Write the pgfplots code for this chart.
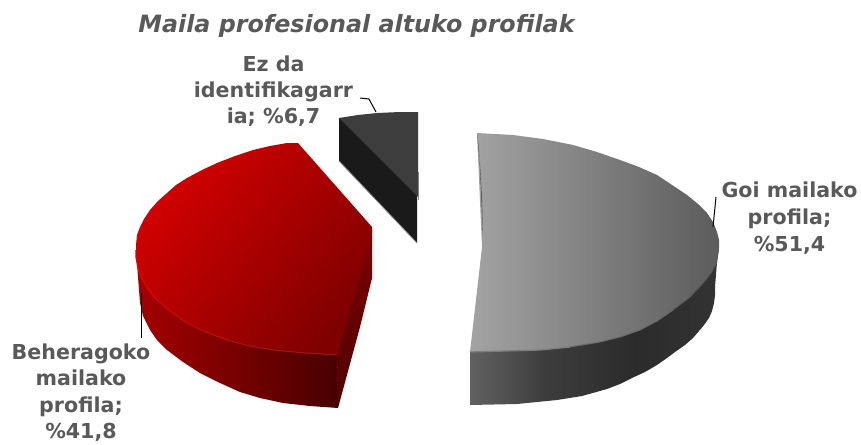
\documentclass[border=0pt]{standalone}
\usepackage{fontspec}
\setmainfont{DejaVu Sans}
\usepackage{pgfplots}
\pgfplotsset{compat=1.18}
\definecolor{lab}{HTML}{595959}
\pgfdeclarehorizontalshading{graytop}{100bp}{color(0bp)=(black!36!white);color(25bp)=(black!36!white);color(50bp)=(black!50!white);color(75bp)=(black!64!white);color(100bp)=(black!64!white)}
\pgfdeclarehorizontalshading{grayside}{100bp}{color(0bp)=(black!62!white);color(25bp)=(black!62!white);color(40bp)=(black!76!white);color(58bp)=(black!83!white);color(75bp)=(black!80!white);color(100bp)=(black!80!white)}
\begin{document}
\begin{tikzpicture}
\begin{axis}[
  scale only axis, width=861pt, height=441pt,
  xmin=0, xmax=861, ymin=0, ymax=441, y dir=reverse,
  hide axis, clip=false, no markers,
  every axis plot/.append style={forget plot, draw=none, line join=round},
]
\path (axis cs:0,0) rectangle (axis cs:861,441);
% dark slice
\addplot[fill={rgb,255:red,26;green,26;blue,26}] coordinates {(339,118)(380,130)(417,170)(417,243)(339,161)} --cycle;
\addplot[draw={rgb,255:red,140;green,140;blue,140}, line width=0.8pt] coordinates {(339,161)(417,243)};
\addplot[draw={rgb,255:red,140;green,140;blue,140}, line width=0.8pt] coordinates {(418,172)(418,200)};
\addplot[fill={rgb,255:red,62;green,62;blue,62}] coordinates {(339,118)(358,115)(377,113)(400,112)(418,112)(418,197)} --cycle;
% red slice
\addplot[shading=axis, left color={rgb,255:red,165;green,0;blue,0}, right color={rgb,255:red,72;green,0;blue,0}] coordinates {(136,250)(138,277)(140,303)(143,316)(150,330)(157,340)(167,350)(183,362)(200,373)(220,383)(240,392)(260,398)(283,403)(310,406)(338,408)(337,350)(200,280)} --cycle;
\addplot[top color={rgb,255:red,125;green,0;blue,0}, bottom color={rgb,255:red,80;green,0;blue,0}] coordinates {(337,354)(372,230)(372,278)(360,327)(338,408)} --cycle;
\addplot[shading=axis, top color={rgb,255:red,212;green,0;blue,0}, bottom color={rgb,255:red,128;green,0;blue,0}, shading angle=50] coordinates {(298,143)(287,143)(270,146)(253,150)(235,156)(217,163)(202,170)(187,178)(176,185)(167,193)(158,201)(150,210)(144,219)(140,227)(137,235)(136,245)(136,257)(138,268)(141,277)(148,289)(157,300)(171,312)(187,323)(206,332)(227,340)(250,346)(273,350)(305,353)(337,355)(372,233)(372,227)} --cycle;
\addplot[draw={rgb,255:red,232;green,0;blue,0}, line width=1.3pt] coordinates {(136,250)(136,257)(138,268)(141,277)(148,289)(157,300)};
\addplot[draw={rgb,255:red,195;green,10;blue,10}, line width=1.2pt] coordinates {(157,300)(171,312)(187,323)(206,332)(227,340)};
\addplot[draw={rgb,255:red,165;green,20;blue,20}, line width=1pt] coordinates {(227,340)(250,346)(273,350)(305,353)(337,355)};
% gray slice
\addplot[shading=grayside] coordinates {(470,352)(470,405)(517,404)(537,402)(557,400)(582,396)(607,389)(620,384)(632,378)(645,372)(657,365)(667,358)(675,352)(685,345)(693,338)(699,331)(704,325)(709,318)(712,311)(714,303)(715,295)(715,287)(717,262)(719,248)(600,300)} --cycle;
\addplot[shading=graytop] coordinates {(477,133)(495,134)(513,135)(543,139)(573,145)(597,152)(620,160)(639,167)(657,175)(672,185)(687,195)(698,204)(707,213)(713,222)(717,232)(719,240)(719,248)(718,256)(717,262)(711,273)(703,283)(690,297)(673,310)(657,321)(640,330)(620,337)(600,342)(570,347)(540,350)(505,351)(470,352)(482,247)} --cycle;
\addplot[draw={rgb,255:red,125;green,125;blue,125}, line width=1.3pt] coordinates {(470,352)(505,351)(540,350)(570,347)};
\addplot[draw={rgb,255:red,105;green,105;blue,105}, line width=1pt] coordinates {(570,347)(600,342)(620,337)(640,330)(657,321)(673,310)};
\addplot[draw={rgb,255:red,90;green,90;blue,90}, line width=1pt] coordinates {(673,310)(690,297)(703,283)(711,273)(717,262)};
\addplot[fill={rgb,255:red,60;green,60;blue,60}] coordinates {(477,133)(479,150)(481,190)(483,237)(482,200)(480,165)} --cycle;
% leader lines
\addplot[draw=black, line width=1pt] coordinates {(360,98)(369,99)(376,112)};
\addplot[draw=black, line width=1pt] coordinates {(716,197)(713,227)};
\addplot[draw=black, line width=1pt] coordinates {(141,293)(141,338)};
% text
\node[font=\fontsize{23.8}{28}\selectfont\bfseries\itshape, text=lab, anchor=center] at (axis cs:356.5,26) {Maila profesional altuko profilak};
\node[font=\fontsize{20.6}{26.3}\selectfont\bfseries, text=lab, align=center, anchor=center] at (axis cs:273.5,91) {Ez da\\identifikagarr\\ia; \%6,7};
\node[font=\fontsize{20.6}{26.8}\selectfont\bfseries, text=lab, align=center, anchor=center] at (axis cs:789.5,218) {Goi mailako\\profila;\\\%51,4};
\node[font=\fontsize{20.6}{26.3}\selectfont\bfseries, text=lab, align=center, anchor=center] at (axis cs:81,392.5) {Beheragoko\\mailako\\profila;\\\%41,8};
\end{axis}
\end{tikzpicture}
\end{document}
